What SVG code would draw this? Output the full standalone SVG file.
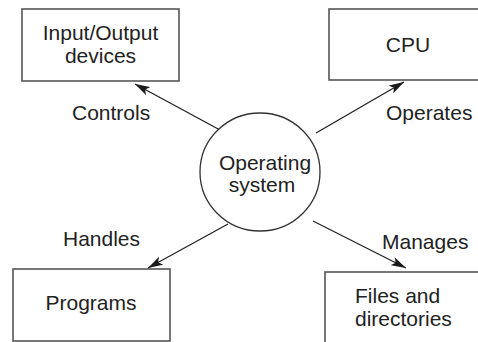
<svg xmlns="http://www.w3.org/2000/svg" width="478" height="342" viewBox="0 0 478 342">
  <defs>
    <marker id="arrow" viewBox="0 0 15 9" refX="15" refY="4.5" markerWidth="15" markerHeight="9" markerUnits="userSpaceOnUse" orient="auto">
      <path d="M0,0 L15,4.5 L0,9 L3.5,4.5 Z" fill="#1a1a1a"/>
    </marker>
  </defs>
  <style>
    .box { fill: #ffffff; stroke: #555555; stroke-width: 1.6; }
    .hub { fill: #ffffff; stroke: #333333; stroke-width: 1.3; }
    .edge { stroke: #222222; stroke-width: 1.3; fill: none; marker-end: url(#arrow); }
    text { font-family: "Liberation Sans", Arial, sans-serif; font-size: 21px; fill: #222222; }
    .c { text-anchor: middle; }
  </style>
  <rect width="478" height="342" fill="#ffffff"/>

  <g id="connectors">
    <line class="edge" x1="220" y1="130" x2="135" y2="84"/>
    <line class="edge" x1="316" y1="133" x2="404" y2="82"/>
    <line class="edge" x1="228" y1="224" x2="148" y2="268"/>
    <line class="edge" x1="313" y1="221" x2="406" y2="268"/>
    <text x="72" y="120">Controls</text>
    <text x="386" y="120">Operates</text>
    <text x="63" y="246">Handles</text>
    <text x="382" y="249">Manages</text>
  </g>

  <g id="io">
    <rect class="box" x="22" y="9" width="157" height="72"/>
    <text class="c" x="100.5" y="40">Input/Output</text>
    <text class="c" x="100.5" y="63">devices</text>
  </g>

  <g id="cpu">
    <rect class="box" x="329" y="9" width="160" height="71"/>
    <text class="c" x="408" y="52">CPU</text>
  </g>

  <g id="os">
    <ellipse class="hub" cx="260" cy="172" rx="60" ry="59"/>
    <text class="c" x="265" y="170">Operating</text>
    <text class="c" x="262" y="192">system</text>
  </g>

  <g id="programs">
    <rect class="box" x="13" y="269" width="157" height="72"/>
    <text class="c" x="91" y="310">Programs</text>
  </g>

  <g id="files">
    <rect class="box" x="325" y="272" width="165" height="80"/>
    <text x="355" y="303">Files and</text>
    <text x="355" y="326">directories</text>
  </g>
</svg>
